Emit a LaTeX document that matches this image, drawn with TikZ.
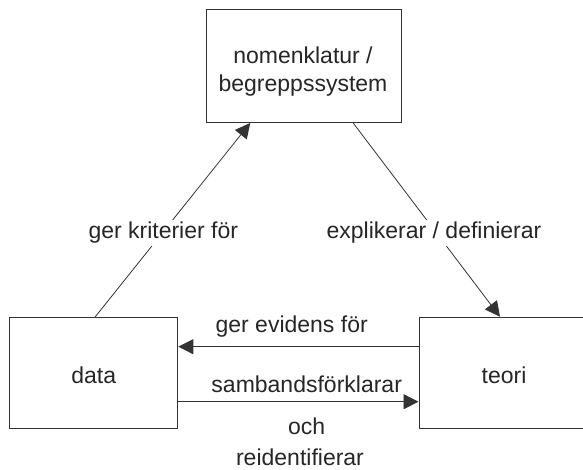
\documentclass[tikz,border=0pt]{standalone}
\usepackage{fontspec}
\setmainfont{Liberation Sans}
\usetikzlibrary{arrows.meta}
\begin{document}
\begin{tikzpicture}[x=1pt,y=-1pt,
  txt/.style={font=\fontsize{23pt}{28.5pt}\selectfont, text=black!85},
  box/.style={draw=black!80, line width=1pt, fill=white, inner sep=0pt},
  lbl/.style={txt, fill=white, inner sep=2pt, anchor=base},
  conn/.style={draw=black!80, line width=0.8pt, -{Triangle[length=15pt,width=15pt]}}]
\useasboundingbox (0,0) rectangle (583,470);
\clip (0,0) rectangle (583,470);
% boxes
\node[box, minimum width=195pt, minimum height=113pt] (top) at (304.2,66) {};
\node[txt, align=center] (toptext) at (303,71.4) {nomenklatur /\\begreppssystem};
\node[box, txt, minimum width=168pt, minimum height=111.5pt, text height=20pt, text depth=0pt] (data) at (93.8,373) {data};
\node[box, txt, minimum width=170pt, minimum height=111.5pt, text height=20pt, text depth=0pt] (teori) at (504,373) {teori};
% connectors
\draw[conn] ([xshift=1.5pt]data.north) -- ([xshift=-54pt]top.south);
\draw[conn] ([xshift=49pt]top.south) -- ([xshift=-4pt]teori.north);
\draw[conn] ([yshift=26.3pt]teori.west) -- ([yshift=26.3pt]data.east);
\draw[conn] ([yshift=-28.7pt]data.east) -- ([yshift=-28.7pt]teori.west);
% labels
\node[lbl] (l1) at (163.3,239) {ger kriterier för};
\node[lbl] (l2) at (434,239) {explikerar / definierar};
\node[lbl, fill=none] (l3) at (291.7,332) {ger evidens för};
\node[lbl, fill=none] (l4) at (306.7,392) {sambandsförklarar};
\node[lbl, fill=none] (l5) at (306.7,434) {och};
\node[lbl, fill=none, inner sep=0pt] (l6) at (300,465) {reidentifierar};
\end{tikzpicture}
\end{document}
